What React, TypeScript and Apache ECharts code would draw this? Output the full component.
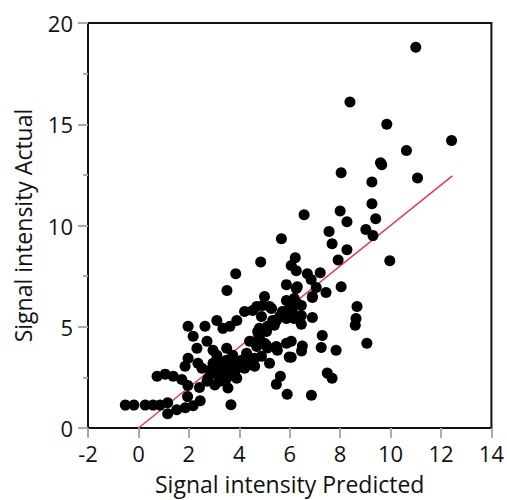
import React, { useEffect, useRef } from "react";
import * as echarts from "echarts";

const xTicks = [-2, 0, 2, 4, 6, 8, 10, 12, 14];
const yTicks = [0, 5, 10, 15, 20];

// [predicted, actual]
const points: number[][] = [
  [-0.52, 1.13], [-0.18, 1.13], [0.27, 1.13], [0.58, 1.13], [0.86, 1.13], [1.16, 1.25], [1.16, 0.7],
  [1.52, 0.9], [1.86, 1.0], [2.17, 1.1], [2.45, 1.35], [1.95, 1.55], [3.67, 1.15],
  [0.74, 2.56], [1.06, 2.66], [1.38, 2.56], [1.72, 2.4], [1.96, 2.1], [2.42, 2.0],
  [2.76, 2.46], [3.03, 2.12], [3.15, 2.61], [3.5, 2.46], [3.55, 1.97], [3.9, 2.46],
  [1.85, 3.05], [1.97, 3.44], [2.36, 3.2], [2.32, 3.94], [2.72, 4.28], [2.17, 4.53], [1.97, 5.02],
  [2.64, 5.02], [2.96, 3.84], [3.11, 3.59], [3.5, 3.94], [3.23, 3.3], [3.74, 3.59], [2.83, 2.85],
  [3.42, 3.05], [3.9, 2.95], [4.21, 2.95],
  [3.11, 5.31], [3.35, 4.92], [3.63, 5.02], [3.9, 5.31], [4.21, 5.75], [4.53, 5.8], [4.88, 5.51],
  [4.92, 6.05], [5.2, 6.0], [4.29, 3.69], [4.1, 3.34], [4.41, 3.2], [4.69, 4.28], [5.0, 4.18],
  [5.12, 3.95], [4.73, 4.77], [5.08, 4.77], [5.39, 5.07], [5.51, 3.84], [6.06, 4.28], [5.98, 3.5],
  [4.61, 3.05], [4.61, 3.44], [4.88, 3.54], [5.2, 3.2], [3.5, 3.34], [3.74, 3.2],
  [4.41, 4.28], [4.8, 4.43], [4.69, 4.03],
  [3.51, 6.79], [3.86, 7.62], [4.85, 8.2], [5.67, 9.35],
  [5.0, 6.49], [5.87, 6.3], [6.0, 6.25], [5.87, 7.08], [6.26, 6.89], [6.46, 6.05], [6.9, 6.44],
  [5.28, 5.9], [5.6, 5.51], [5.32, 5.16], [6.06, 5.66], [6.18, 5.41], [6.46, 5.12], [6.9, 5.46],
  [6.22, 8.41], [6.06, 8.03], [6.26, 7.77], [6.7, 7.62], [7.21, 7.67], [6.85, 7.33], [7.05, 6.94],
  [7.44, 6.69], [8.04, 6.98], [6.57, 10.53], [7.56, 9.7], [7.68, 9.1], [8.27, 8.8], [7.92, 8.3],
  [9.97, 8.26], [8.0, 10.72], [8.27, 10.18], [9.02, 9.8], [9.3, 9.5], [9.41, 10.33], [9.26, 11.07],
  [9.26, 12.15], [11.07, 12.35], [8.04, 12.6], [9.6, 13.1], [9.65, 13.0], [10.63, 13.7],
  [12.42, 14.2], [9.85, 15.0], [8.39, 16.1], [11.0, 18.8],
  [8.67, 6.0], [8.63, 5.41], [8.6, 5.07], [9.06, 4.18], [7.29, 4.57], [7.25, 3.98], [7.84, 3.84],
  [6.5, 4.05], [6.47, 3.8], [6.06, 3.49], [5.63, 2.56], [5.47, 2.16], [7.49, 2.71], [7.68, 2.46],
  [5.9, 1.67], [6.86, 1.62],
  [4.73, 4.18], [5.08, 4.08], [5.47, 4.03], [5.87, 4.18], [4.8, 4.92], [5.32, 5.31], [5.87, 5.41],
  [6.18, 6.39], [6.3, 6.15], [5.98, 5.9], [6.46, 5.56], [6.1, 5.75], [6.3, 6.98], [6.9, 6.49],
  [2.96, 3.2], [3.23, 2.85], [3.55, 2.85], [3.82, 2.6], [3.23, 2.31], [4.0, 3.1], [4.33, 3.1],
  [4.49, 3.44], [2.52, 2.95], [2.72, 2.31], [4.69, 6.0], [5.71, 5.75], [5.12, 5.02], [5.47, 5.31],
];

// fit line y = x over predicted range
const fitLine: number[][] = [
  [0, 0],
  [12.45, 12.45],
];

const FONT = "'Open Sans', 'Noto Sans', sans-serif";

export default function App() {
  const ref = useRef<HTMLDivElement>(null);
  useEffect(() => {
    if (!ref.current) return;
    const chart = echarts.init(ref.current, null, { renderer: "svg" });
    chart.setOption({
      animation: false,
      backgroundColor: "#fff",
      grid: {
        left: 88,
        top: 23,
        right: 14,
        bottom: 70,
        show: true,
        borderColor: "#111",
        borderWidth: 2,
        backgroundColor: "transparent",
      },
      xAxis: {
        type: "value",
        min: xTicks[0],
        max: xTicks[xTicks.length - 1],
        interval: 2,
        name: "Signal intensity Predicted",
        nameLocation: "middle",
        nameGap: 44,
        nameTextStyle: { color: "#111", fontSize: 23, fontFamily: FONT },
        axisLine: { show: true, onZero: false, lineStyle: { color: "#111", width: 2 } },
        axisTick: { show: true, inside: false, length: 10, lineStyle: { color: "#aaa", width: 2 } },
        axisLabel: { color: "#111", fontSize: 22, fontFamily: FONT, margin: 14 },
        splitLine: { show: false },
      },
      yAxis: {
        type: "value",
        min: yTicks[0],
        max: yTicks[yTicks.length - 1],
        interval: 5,
        name: "Signal intensity Actual",
        nameLocation: "middle",
        nameGap: 54,
        nameTextStyle: { color: "#111", fontSize: 23, fontFamily: FONT },
        axisLine: { show: true, onZero: false, lineStyle: { color: "#111", width: 2 } },
        axisTick: { show: true, inside: false, length: 10, lineStyle: { color: "#aaa", width: 2 } },
        minorTick: { show: true, splitNumber: 2, length: 5, lineStyle: { color: "#aaa", width: 2 } },
        axisLabel: { color: "#111", fontSize: 22, fontFamily: FONT, margin: 15 },
        splitLine: { show: false },
      },
      series: [
        {
          type: "line",
          data: fitLine,
          symbol: "none",
          lineStyle: { color: "#e8394d", width: 1.5 },
          z: 1,
        },
        {
          type: "scatter",
          data: points,
          symbolSize: 11,
          itemStyle: { color: "#000", opacity: 1 },
          z: 2,
        },
      ],
    });
    return () => chart.dispose();
  }, []);
  return (
    <div
      ref={ref}
      style={{ position: "absolute", left: 0, top: 0, width: 507, height: 500 }}
    />
  );
}
